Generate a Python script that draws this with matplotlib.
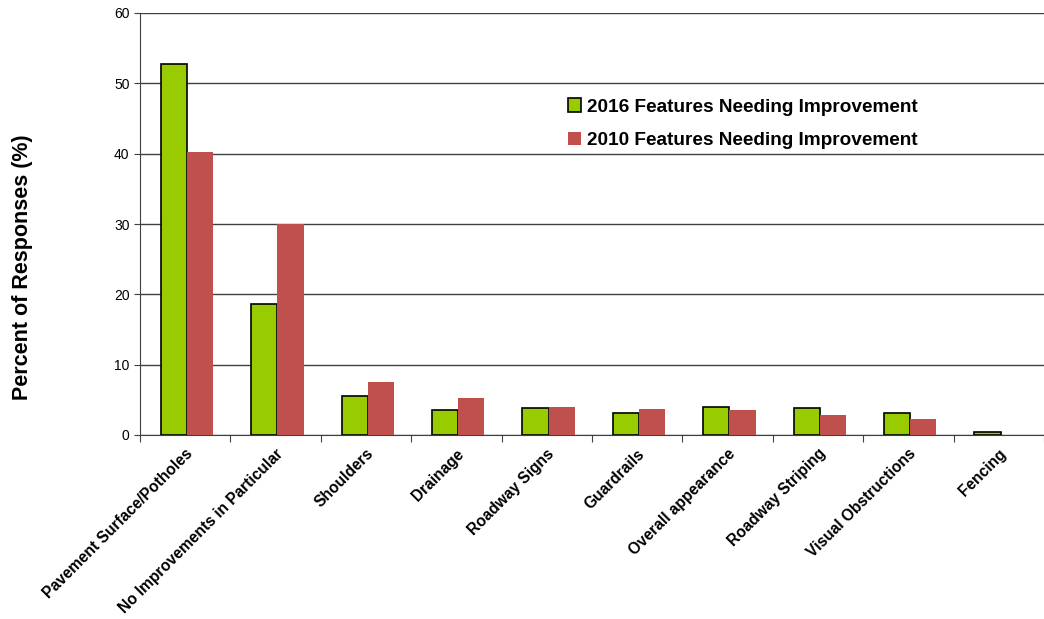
import matplotlib.pyplot as plt
import numpy as np

plt.rcParams['font.family'] = ['Liberation Sans', 'DejaVu Sans']

categories = ["Pavement Surface/Potholes", "No Improvements in Particular", "Shoulders",
              "Drainage", "Roadway Signs", "Guardrails", "Overall appearance",
              "Roadway Striping", "Visual Obstructions", "Fencing"]
pct_2016 = [52.7, 18.6, 5.6, 3.5, 3.8, 3.1, 4.0, 3.8, 3.1, 0.45]
pct_2010 = [40.2, 30.0, 7.5, 5.3, 4.0, 3.7, 3.5, 2.85, 2.3, 0.0]

fig = plt.figure(figsize=(10.44, 6.19), dpi=100)
ax = fig.add_axes([140 / 1044, 1 - 435 / 619, 1 - 140 / 1044, (435 - 13) / 619])

x = np.arange(len(categories))
w = 0.29
ax.bar(x + 0.02 - w / 2, pct_2016, w, color='#99CC00', edgecolor='black', linewidth=1.2,
       label='2016 Features Needing Improvement', zorder=3)
ax.bar(x + 0.02 + w / 2, pct_2010, w, color='#C0504D', edgecolor='none',
       label='2010 Features Needing Improvement', zorder=3)

ax.set_xlim(-0.5, len(categories) - 0.5)
ax.set_ylim(0, 60)
ax.set_yticks(range(0, 61, 10))
ax.yaxis.grid(True, color='#404040', linewidth=1, zorder=0)
ax.tick_params(axis='y', labelsize=10, length=4, color='#404040')

# boundary ticks on the x axis, labels sit on the category centres
ax.set_xticks(np.arange(-0.5, len(categories), 1.0))
ax.set_xticklabels([])
ax.tick_params(axis='x', which='major', length=5, color='#404040')
ax.set_xticks(x, minor=True)
ax.set_xticklabels(categories, minor=True, rotation=45, ha='right', rotation_mode='anchor',
                   fontsize=11.2, fontweight='bold')
ax.tick_params(axis='x', which='minor', length=0, pad=8)

for side in ['top', 'right']:
    ax.spines[side].set_visible(False)
for side in ['left', 'bottom']:
    ax.spines[side].set_color('#404040')

ax.set_ylabel('Percent of Responses (%)', fontsize=15.5, fontweight='bold')
ax.yaxis.set_label_coords(-107 / 904, 0.398)

ax.legend(loc='upper left', bbox_to_anchor=(0.454, 0.838), frameon=False,
          prop={'weight': 'bold', 'size': 13.7}, handlelength=0.7, handleheight=0.7,
          handletextpad=0.3, labelspacing=0.85)

fig.savefig('out.png')
